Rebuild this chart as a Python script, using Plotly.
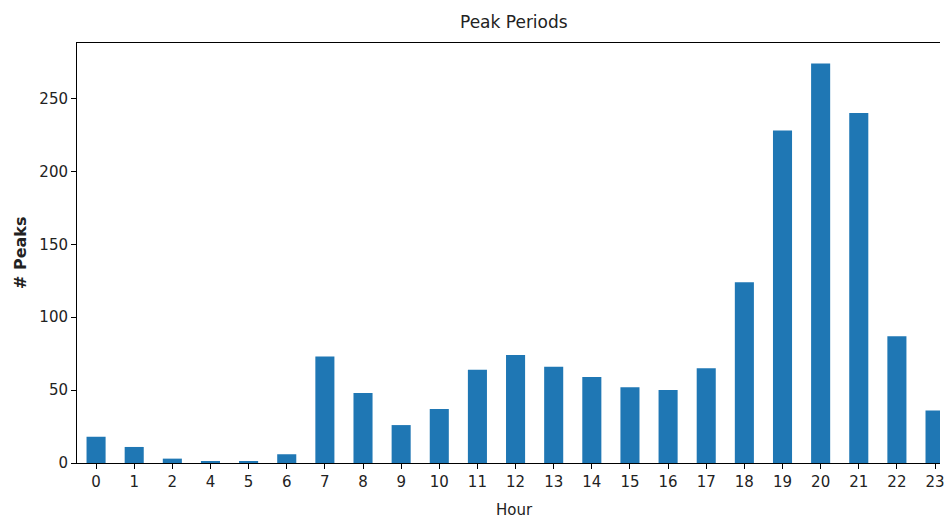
import plotly.graph_objects as go

hours = ["0", "1", "2", "4", "5", "6", "7", "8", "9", "10", "11", "12",
         "13", "14", "15", "16", "17", "18", "19", "20", "21", "22", "23"]
peaks = [18, 11, 3, 1, 1, 6, 73, 48, 26, 37, 64, 74,
         66, 59, 52, 50, 65, 124, 228, 274, 240, 87, 36]

title_text = "Peak Periods"
x_label = "Hour"
y_label = "# Peaks"
y_ticks = [0, 50, 100, 150, 200, 250]

font_family = "DejaVu Sans, sans-serif"
text_color = "#222222"

fig = go.Figure(
    go.Bar(x=hours, y=peaks, marker=dict(color="#1f77b4", line=dict(width=0)),
           hoverinfo="x+y")
)

fig.update_layout(
    width=945, height=519,
    margin=dict(l=77, r=0, t=43, b=56),
    paper_bgcolor="white", plot_bgcolor="white",
    bargap=0.5,
    showlegend=False,
    font=dict(family=font_family, size=15, color=text_color),
    annotations=[
        dict(text=title_text, xref="paper", yref="paper", x=(517 - 77) / 868,
             y=1, yshift=21, xanchor="center", yanchor="middle", showarrow=False,
             font=dict(size=17, color=text_color)),
        dict(text=x_label, xref="paper", yref="paper", x=(517 - 77) / 868,
             y=0, yshift=-47, xanchor="center", yanchor="middle", showarrow=False,
             font=dict(size=15, color=text_color)),
        dict(text="<b>" + y_label + "</b>", xref="paper", yref="paper", x=0, xshift=-57,
             y=0.5, xanchor="center", yanchor="middle", showarrow=False, textangle=-90,
             font=dict(size=16, color=text_color)),
    ],
)

fig.update_xaxes(
    type="category", range=[-0.5, 22.13],
    showline=True, linecolor="black", linewidth=1, mirror=True,
    ticks="outside", ticklen=5, tickcolor="black", tickwidth=1,
    showgrid=False, zeroline=False,
    tickfont=dict(size=15, color=text_color),
)
fig.update_yaxes(
    range=[0, 288], tickvals=y_ticks,
    showline=True, linecolor="black", linewidth=1, mirror=False,
    ticks="outside", ticklen=5, tickcolor="black", tickwidth=1,
    showgrid=False, zeroline=False,
    tickfont=dict(size=15, color=text_color),
)

fig.write_html(
    "out.html",
    config={"displayModeBar": False},
    post_script="document.body.style.margin='0';document.body.style.overflow='hidden';",
)
